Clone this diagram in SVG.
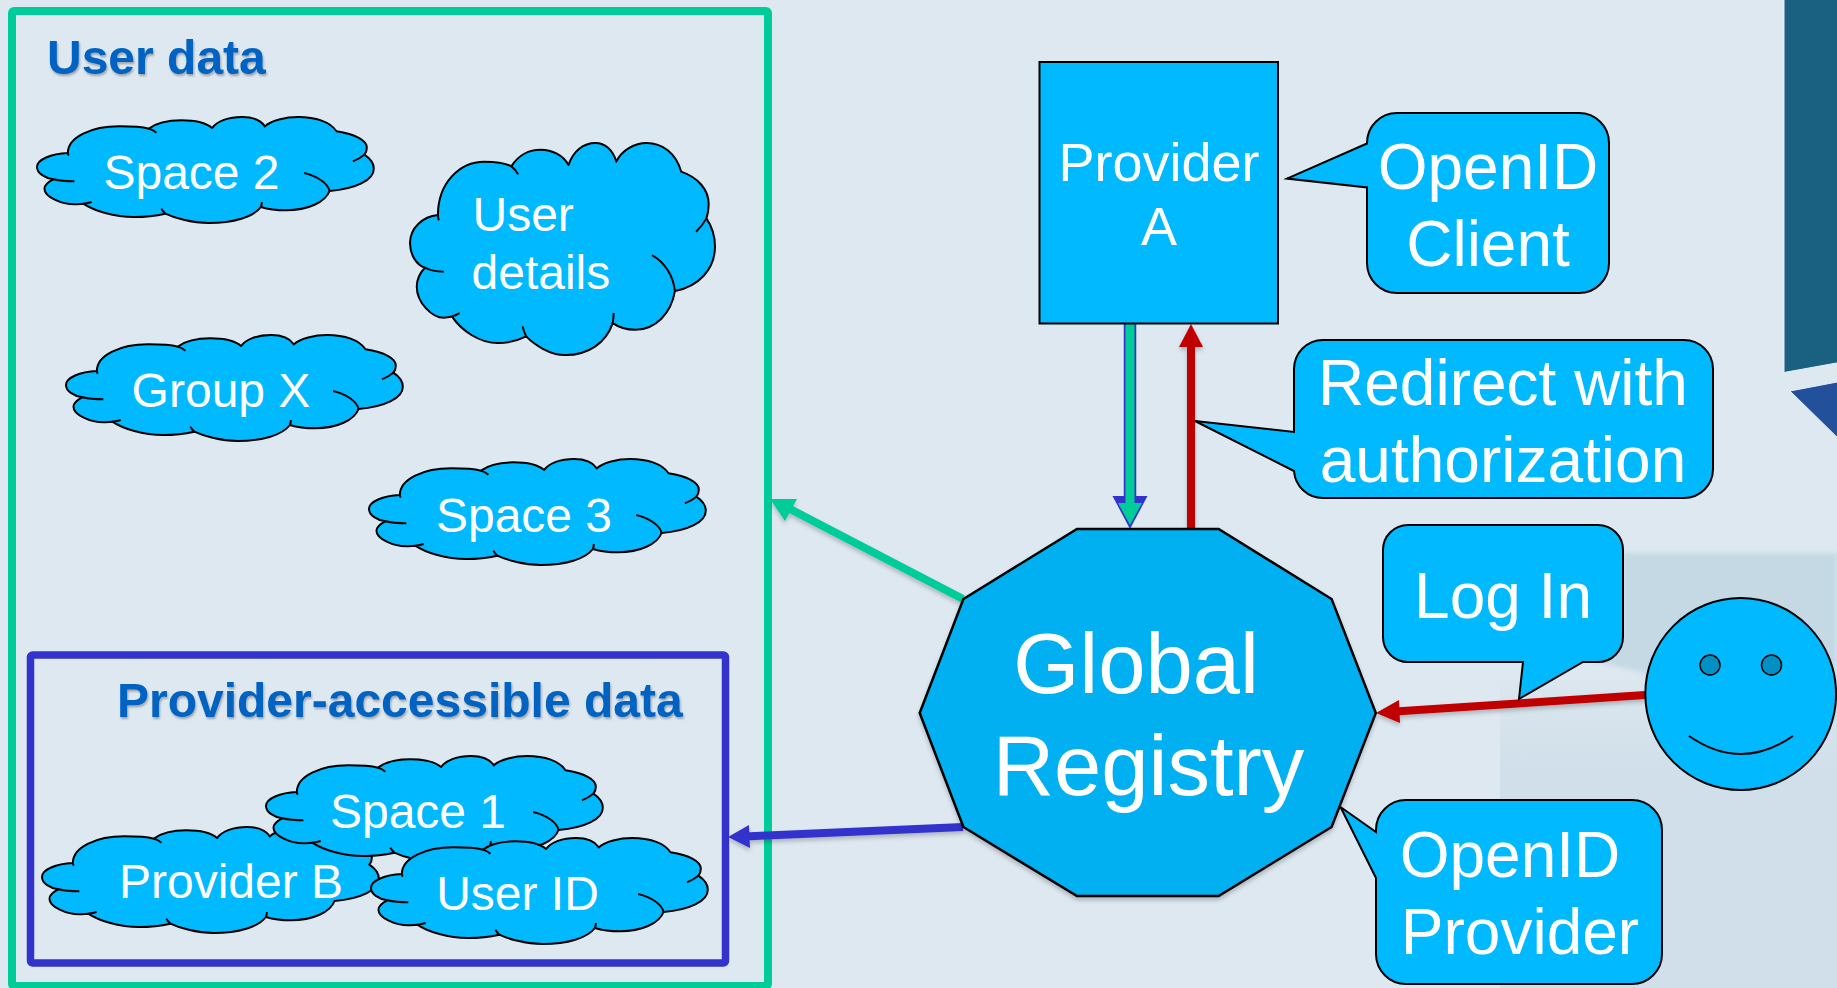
<svg xmlns="http://www.w3.org/2000/svg" width="1837" height="988" viewBox="0 0 1837 988">
<style>
text{font-family:"Liberation Sans",Arial,sans-serif;fill:#fff}
.h{font-weight:bold;fill:#0563C1;font-size:48px;filter:url(#ts)}
.c{font-size:48px}.m{font-size:64px}.s{fill:#00B9FF;stroke:#000;stroke-width:2}
.cf{fill:#00B9FF;stroke:#000;stroke-width:2;stroke-linejoin:round;vector-effect:non-scaling-stroke}
.ct{fill:none;stroke:#000;stroke-width:2;vector-effect:non-scaling-stroke}
.l{fill:none;stroke-width:8}
</style>
<defs>
<filter id="ts" x="-5%" y="-10%" width="110%" height="130%"><feDropShadow dx="1" dy="2" stdDeviation="1.2" flood-color="#000" flood-opacity=".3"/></filter>
<filter id="sh" filterUnits="userSpaceOnUse" x="0" y="0" width="1837" height="988"><feDropShadow dx="0" dy="3" stdDeviation="2" flood-color="#000" flood-opacity=".22"/></filter>
<filter id="soft" filterUnits="userSpaceOnUse" x="0" y="0" width="1837" height="988"><feGaussianBlur stdDeviation="2.500"/></filter>
<linearGradient id="band" gradientUnits="userSpaceOnUse" x1="0" y1="668" x2="0" y2="770"><stop offset="0" stop-color="#DDE8F0"/><stop offset="1" stop-color="#D0DFEA"/></linearGradient>
<path id="outline" class="cf" d="M62,108C62,60 110,28 165,28C190,28 212,30 225,35C240,18 265,10 290,10C315,10 340,18 352,33C362,12 385,0 412,0C432,0 450,10 458,28C470,10 500,0 525,0C560,0 590,15 602,43C640,52 663,70 663,92C663,100 661,107 658,113C670,125 677,140 677,155C677,190 640,215 588,222C580,255 545,280 500,280C482,280 465,277 450,270C435,300 395,318 345,318C310,318 275,302 258,290C240,296 218,300 195,300C155,300 115,282 93,260C85,261 80,262 75,262C50,262 15,240 15,215C15,205 22,195 33,187C15,183 0,168 0,150C0,128 28,110 62,108Z"/>
<g id="cloud">
<use href="#outline"/>
<path class="ct" d="M225,35Q235,40 240,47M658,113Q648,125 635,133M537,168C565,178 585,200 588,222M452,255Q452,262 450,270M250,275Q252,282 258,290M110,255Q102,258 93,260M75,193Q50,193 33,187M62,108Q62,112 64,116"/>
</g>
<g id="cloud-hidden-tail">
<use href="#outline"/>
<path class="ct" d="M225,35Q235,40 240,47M452,255Q452,262 450,270M250,275Q252,282 258,290M110,255Q102,258 93,260M75,193Q50,193 33,187M62,108Q62,112 64,116"/>
</g>
</defs>
<rect id="background" width="1837" height="988" fill="#DEE8F1"/>
<g id="backdrop">
<path d="M1623,553H1837V988H1500V680H1623Z" fill="url(#band)"/>
<path d="M1623,553H1837V720L1645,673L1590,660L1623,640Z" fill="#C4D9E3" filter="url(#soft)"/>
<path d="M1784,-5H1845V361.500L1784,372.500Z" fill="#1A6080" stroke="#E4F2F7" stroke-width="1"/>
<path d="M1790,391L1845,380.500V445Z" fill="#23509A" stroke="#E4F2F7" stroke-width="1"/>
</g>
<g id="user-data"><rect x="12" y="11" width="756" height="975" rx="2" fill="none" stroke="#00CC99" stroke-width="8"/><text class="h" x="47" y="74">User data</text></g>
<g id="provider-data"><rect x="30.500" y="655" width="695" height="308" rx="2" fill="none" stroke="#3333CC" stroke-width="7.500"/><text class="h" x="117" y="716.500">Provider-accessible data</text></g>
<g id="space-2"><use href="#cloud" transform="translate(37,117) scale(.4975,.3333)"/><text class="c" x="191.500" y="188.500" text-anchor="middle">Space 2</text></g>
<g id="user-details"><use href="#cloud" transform="translate(410,143) scale(.4505,.667)"/><text class="c" x="472.500" y="230.500">User</text><text class="c" x="471.500" y="288.500">details</text></g>
<g id="group-x"><use href="#cloud" transform="translate(66,335) scale(.4975,.3333)"/><text class="c" x="221" y="407" text-anchor="middle">Group X</text></g>
<g id="space-3"><use href="#cloud" transform="translate(369,459) scale(.4975,.3333)"/><text class="c" x="524" y="531.500" text-anchor="middle">Space 3</text></g>
<g id="provider-b"><use href="#cloud-hidden-tail" transform="translate(42,827) scale(.4975,.3333)"/><text class="c" x="231" y="898" text-anchor="middle">Provider B</text></g>
<g id="space-1"><use href="#cloud" transform="translate(266,756) scale(.4975,.3333)"/><text class="c" x="418" y="828" text-anchor="middle">Space 1</text></g>
<g id="user-id"><use href="#cloud" transform="translate(371,838) scale(.4975,.3333)"/><text class="c" x="517.500" y="909.500" text-anchor="middle">User ID</text></g>
<g id="connectors">
<g filter="url(#sh)"><path class="l" stroke="#00CC99" d="M963,599L790,509"/><path d="M770,499L797,499L785,521Z" fill="#00CC99"/></g>
<g filter="url(#sh)"><path class="l" stroke="#3333CC" d="M963,827L745,836.500"/><path d="M728,837L749,825L750,848Z" fill="#3333CC"/></g>
<g filter="url(#sh)"><path class="l" stroke="#C00000" d="M1645,695L1395,711.500"/><path d="M1376,713L1399,700L1400,723Z" fill="#C00000"/></g>
<g filter="url(#sh)"><path class="l" stroke="#C00000" d="M1191,529V345"/><path d="M1191,324L1203,347H1179Z" fill="#C00000"/></g>
<path fill="none" stroke="#3333CC" stroke-width="12.500" d="M1130,324V500"/><path d="M1130,529L1112.500,496H1147.500Z" fill="#3333CC"/>
<path fill="none" stroke="#00CC99" stroke-width="9" d="M1130,324V505"/><path d="M1130,525L1118,503H1142Z" fill="#00CC99"/>
</g>
<g id="global-registry"><path d="M1077,529H1218.600L1331.600,599L1375.800,713L1331.600,827L1218.600,896H1077L963.400,827L919.700,713L963.400,599Z" fill="#00B0F0" stroke="#000" stroke-width="2.500" filter="url(#sh)"/><text x="1136" y="692.500" text-anchor="middle" font-size="85">Global</text><text x="1148.500" y="795" text-anchor="middle" font-size="85">Registry</text></g>
<g id="provider-a"><rect class="s" x="1039.500" y="62" width="238.500" height="261.500"/><text x="1159" y="181" text-anchor="middle" font-size="54">Provider</text><text x="1159" y="245" text-anchor="middle" font-size="54">A</text></g>
<g id="openid-client"><path class="s" d="M1397,113H1579A30,30 0 0 1 1609,143V263A30,30 0 0 1 1579,293H1397A30,30 0 0 1 1367,263V187.500L1287,178.600L1367,143.500V143A30,30 0 0 1 1397,113Z"/><text class="m" x="1488" y="188.500" text-anchor="middle">OpenID</text><text class="m" x="1488" y="265.500" text-anchor="middle">Client</text></g>
<g id="redirect"><path class="s" d="M1323,340H1684A29,29 0 0 1 1713,369V469A29,29 0 0 1 1684,498H1323A29,29 0 0 1 1294,471L1195,421L1294,432V369A29,29 0 0 1 1323,340Z"/><text class="m" x="1503" y="405" text-anchor="middle">Redirect with</text><text class="m" x="1503" y="482" text-anchor="middle">authorization</text></g>
<g id="log-in"><path class="s" d="M1408,525H1598A25,25 0 0 1 1623,550V637A25,25 0 0 1 1598,662H1583L1519,699L1523,662H1408A25,25 0 0 1 1383,637V550A25,25 0 0 1 1408,525Z"/><text class="m" x="1503" y="618" text-anchor="middle">Log In</text></g>
<g id="openid-provider"><path class="s" d="M1406,800H1632A30,30 0 0 1 1662,830V954A30,30 0 0 1 1632,984H1406A30,30 0 0 1 1376,954V878L1340.500,807L1376,832V830A30,30 0 0 1 1406,800Z"/><text class="m" x="1510" y="877" text-anchor="middle">OpenID</text><text class="m" x="1520" y="954" text-anchor="middle">Provider</text></g>
<g id="user"><ellipse class="s" cx="1740.700" cy="694" rx="95.400" ry="96"/><ellipse cx="1710" cy="665" rx="10" ry="10" fill="#0090C4" stroke="#000" stroke-width="1.500"/><ellipse cx="1771.500" cy="665" rx="10" ry="10" fill="#0090C4" stroke="#000" stroke-width="1.500"/><path d="M1689,736Q1741,772 1793,736" fill="none" stroke="#000" stroke-width="2"/></g>
</svg>
